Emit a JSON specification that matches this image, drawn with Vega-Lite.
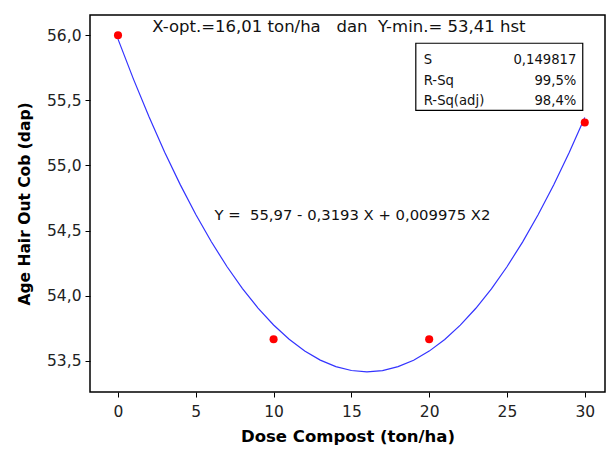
{
  "$schema": "https://vega.github.io/schema/vega-lite/v6.json",
  "autosize": {"type": "none"},
  "width": 515,
  "height": 377,
  "padding": {"left": 90, "top": 15, "right": 5, "bottom": 58},
  "background": "white",
  "config": {
    "view": {"stroke": "#000000", "strokeWidth": 1.5},
    "font": "DejaVu Sans"
  },
  "datasets": {
    "points": [
      {"dose": 0, "age": 56.0},
      {"dose": 10, "age": 53.665},
      {"dose": 20, "age": 53.665},
      {"dose": 30, "age": 55.33}
    ],
    "curve": [
      {"dose": 0, "age": 55.97},
      {"dose": 1, "age": 55.6607},
      {"dose": 2, "age": 55.3713},
      {"dose": 3, "age": 55.1019},
      {"dose": 4, "age": 54.8524},
      {"dose": 5, "age": 54.6229},
      {"dose": 6, "age": 54.4133},
      {"dose": 7, "age": 54.2237},
      {"dose": 8, "age": 54.054},
      {"dose": 9, "age": 53.9043},
      {"dose": 10, "age": 53.7745},
      {"dose": 11, "age": 53.6647},
      {"dose": 12, "age": 53.5748},
      {"dose": 13, "age": 53.5049},
      {"dose": 14, "age": 53.4549},
      {"dose": 15, "age": 53.4249},
      {"dose": 16, "age": 53.4148},
      {"dose": 17, "age": 53.4247},
      {"dose": 18, "age": 53.4545},
      {"dose": 19, "age": 53.5043},
      {"dose": 20, "age": 53.574},
      {"dose": 21, "age": 53.6637},
      {"dose": 22, "age": 53.7733},
      {"dose": 23, "age": 53.9029},
      {"dose": 24, "age": 54.0524},
      {"dose": 25, "age": 54.2219},
      {"dose": 26, "age": 54.4113},
      {"dose": 27, "age": 54.6207},
      {"dose": 28, "age": 54.85},
      {"dose": 29, "age": 55.0993},
      {"dose": 30, "age": 55.3685}
    ],
    "notes": [
      {"dose": 2.2, "age": 56.06, "text": "X-opt.=16,01 ton/ha\u00a0\u00a0\u00a0dan\u00a0\u00a0Y-min.= 53,41 hst", "size": 16.5},
      {"dose": 6.2, "age": 54.61, "text": "Y =\u00a0\u00a055,97 - 0,3193 X + 0,009975 X2", "size": 14.8}
    ],
    "box": [
      {"x1": 19.14, "x2": 29.87, "y1": 55.938, "y2": 55.423}
    ],
    "boxleft": [
      {"dose": 19.65, "age": 55.81, "text": "S"},
      {"dose": 19.65, "age": 55.648, "text": "R-Sq"},
      {"dose": 19.65, "age": 55.498, "text": "R-Sq(adj)"}
    ],
    "boxright": [
      {"dose": 29.46, "age": 55.81, "text": "0,149817"},
      {"dose": 29.46, "age": 55.648, "text": "99,5%"},
      {"dose": 29.46, "age": 55.498, "text": "98,4%"}
    ]
  },
  "encoding": {
    "x": {
      "field": "dose", "type": "quantitative",
      "scale": {"domain": [-1.8, 31.3], "nice": false, "zero": false},
      "axis": {
        "title": "Dose Compost (ton/ha)", "values": [0, 5, 10, 15, 20, 25, 30],
        "grid": false, "domain": false, "tickColor": "#000", "tickSize": 5, "tickWidth": 1,
        "labelFontSize": 15.5, "labelColor": "#222", "labelPadding": 7, "labelFont": "DejaVu Sans",
        "titleFontSize": 16.5, "titleFontWeight": "bold", "titleColor": "#000", "titlePadding": 9
      }
    },
    "y": {
      "field": "age", "type": "quantitative",
      "scale": {"domain": [53.26, 56.155], "nice": false, "zero": false},
      "axis": {
        "title": "Age Hair Out Cob (dap)", "values": [53.5, 54, 54.5, 55, 55.5, 56],
        "labelExpr": "replace(format(datum.value, '.1f'), '.', ',')",
        "grid": false, "domain": false, "tickColor": "#000", "tickSize": 5, "tickWidth": 1,
        "labelFontSize": 15.5, "labelColor": "#222", "labelPadding": 4, "labelFont": "DejaVu Sans",
        "titleFontSize": 15.5, "titleFontWeight": "bold", "titleColor": "#000", "titlePadding": 14
      }
    }
  },
  "layer": [
    {
      "data": {"name": "curve"},
      "mark": {"type": "line", "color": "#3333ff", "strokeWidth": 1.2},
      "encoding": {}
    },
    {
      "data": {"name": "points"},
      "mark": {"type": "circle", "color": "#ff0000", "opacity": 1, "size": 65},
      "encoding": {}
    },
    {
      "data": {"name": "notes"},
      "mark": {"type": "text", "align": "left", "baseline": "middle", "color": "#111", "font": "DejaVu Sans"},
      "encoding": {"text": {"field": "text"}, "size": {"field": "size", "type": "quantitative", "scale": null}}
    },
    {
      "data": {"name": "box"},
      "mark": {"type": "rect", "fill": "white", "stroke": "#000", "strokeWidth": 1.2},
      "encoding": {
        "x": {"field": "x1", "type": "quantitative"},
        "x2": {"field": "x2"},
        "y": {"field": "y1", "type": "quantitative"},
        "y2": {"field": "y2"}
      }
    },
    {
      "data": {"name": "boxleft"},
      "mark": {"type": "text", "align": "left", "baseline": "middle", "fontSize": 13.2, "color": "#111", "font": "DejaVu Sans"},
      "encoding": {"text": {"field": "text"}}
    },
    {
      "data": {"name": "boxright"},
      "mark": {"type": "text", "align": "right", "baseline": "middle", "fontSize": 13.2, "color": "#111", "font": "DejaVu Sans"},
      "encoding": {"text": {"field": "text"}}
    }
  ]
}
